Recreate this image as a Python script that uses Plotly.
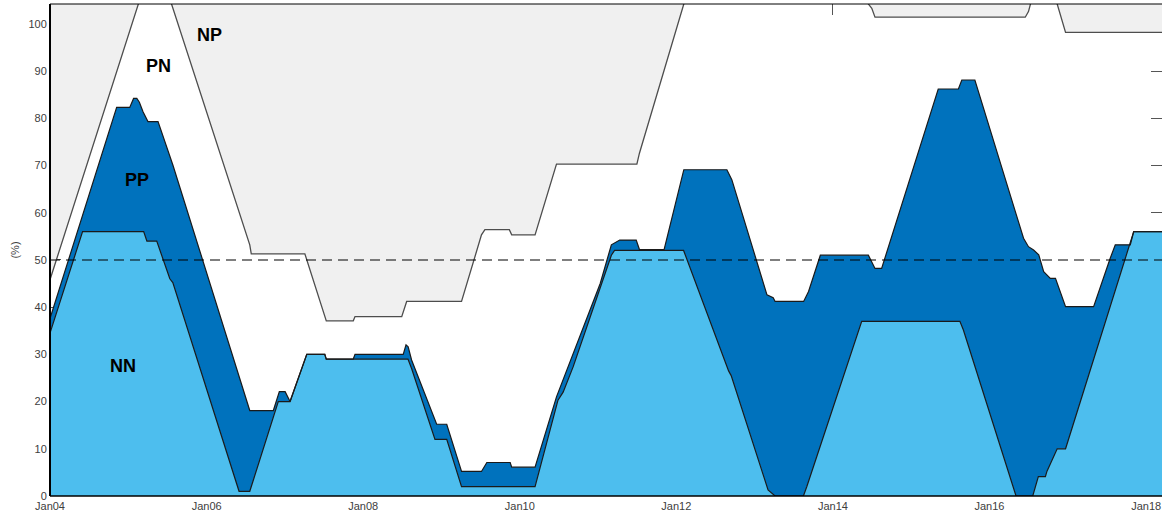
import plotly.graph_objects as go

# Cumulative shares (%) of the four groups, stacked bottom to top: NN, NN+PP, NN+PP+PN.
# The NP share fills the space above the NN+PP+PN line.
nn_dates = [
    "2004-01-01", "2004-06-01", "2005-03-13", "2005-03-28", "2005-05-13", "2005-07-13",
    "2005-07-27", "2006-06-01", "2006-07-21", "2006-12-01", "2007-01-25", "2007-04-13",
    "2007-07-06", "2007-07-13", "2008-07-28", "2008-08-14", "2008-12-01", "2009-01-25",
    "2009-04-04", "2010-03-13", "2010-06-28", "2010-07-22", "2010-09-07", "2011-03-04",
    "2011-03-19", "2012-02-04", "2012-09-01", "2012-09-13", "2013-03-04", "2013-04-06",
    "2013-08-16", "2013-09-01", "2014-05-15", "2015-08-16", "2015-09-01", "2016-05-04",
    "2016-07-21", "2016-08-16", "2016-09-18", "2016-09-25", "2016-11-12", "2016-12-21",
    "2017-11-04", "2018-03-16",
]
nn = [
    34.5, 56.0, 56.0, 54.0, 54.0, 46.0,
    45.2, 1.0, 1.0, 20.0, 20.0, 30.0,
    30.0, 29.0, 29.0, 27.0, 12.0, 12.0,
    2.0, 2.0, 20.3, 22.0, 27.4, 51.0,
    52.0, 52.0, 26.5, 25.5, 1.3, 0.0,
    0.0, 2.0, 37.0, 37.0, 35.2, 0.0,
    0.0, 4.1, 4.1, 5.2, 10.0, 10.0,
    56.0, 56.0,
]

nn_pp_dates = [
    "2004-01-01", "2004-11-07", "2005-01-07", "2005-01-25", "2005-02-09", "2005-02-21",
    "2005-03-10", "2005-04-02", "2005-05-19", "2005-07-21", "2005-07-28", "2006-07-21",
    "2006-11-08", "2006-12-06", "2007-01-02", "2007-01-25", "2007-04-13", "2007-07-06",
    "2007-07-13", "2007-11-16", "2007-11-24", "2008-07-06", "2008-07-19", "2008-07-29",
    "2008-08-06", "2008-08-14", "2008-12-09", "2009-01-25", "2009-04-04", "2009-07-06",
    "2009-07-31", "2009-11-17", "2009-11-24", "2010-03-13", "2010-06-21", "2011-01-11",
    "2011-03-04", "2011-04-12", "2011-06-28", "2011-07-13", "2011-11-05", "2012-02-05",
    "2012-08-24", "2012-09-16", "2013-02-27", "2013-03-28", "2013-04-06", "2013-08-17",
    "2013-09-09", "2013-11-03", "2014-06-15", "2014-07-16", "2014-08-16", "2015-05-07",
    "2015-08-09", "2015-08-25", "2015-10-25", "2016-06-08", "2016-07-01", "2016-07-25",
    "2016-08-18", "2016-09-10", "2016-10-11", "2016-11-04", "2016-12-21", "2017-05-01",
    "2017-07-17", "2017-08-10", "2017-10-19", "2017-11-04", "2018-03-16",
]
nn_pp = [
    37.6, 82.3, 82.3, 84.2, 84.2, 83.4,
    81.4, 79.3, 79.3, 71.2, 70.0, 18.1,
    18.1, 22.1, 22.1, 20.0, 30.0, 30.0,
    29.0, 29.0, 30.0, 30.0, 32.0, 31.6,
    29.9, 28.8, 15.2, 15.2, 5.2, 5.2,
    7.1, 7.1, 6.1, 6.1, 21.0, 45.0,
    53.2, 54.2, 54.2, 52.2, 52.2, 69.1,
    69.1, 67.0, 42.6, 42.0, 41.2, 41.2,
    43.3, 51.0, 51.0, 48.2, 48.2, 86.2,
    86.2, 88.1, 88.1, 54.6, 52.8, 52.1,
    51.1, 47.5, 46.1, 46.1, 40.1, 40.1,
    50.3, 53.2, 53.2, 56.0, 56.0,
]

nn_pp_pn_dates = [
    "2004-01-01", "2005-02-09", "2005-03-01", "2005-07-01", "2005-07-21", "2006-07-21",
    "2006-07-28", "2007-04-04", "2007-07-13", "2007-11-16", "2007-11-24", "2008-06-29",
    "2008-07-22", "2009-04-04", "2009-07-06", "2009-07-22", "2009-11-13", "2009-11-24",
    "2010-03-13", "2010-06-21", "2011-07-01", "2011-07-13", "2012-02-05", "2012-03-15",
    "2014-06-01", "2014-06-15", "2014-07-01", "2014-07-16", "2016-06-16", "2016-07-01",
    "2016-07-21", "2016-10-20", "2016-11-12", "2016-12-21", "2018-03-16",
]
nn_pp_pn = [
    45.8, 103.0, 106.0, 106.0, 104.2, 53.2,
    51.3, 51.3, 37.1, 37.1, 38.0, 38.0,
    41.2, 41.2, 55.3, 56.4, 56.4, 55.3,
    55.3, 70.3, 70.3, 72.6, 104.2, 106.0,
    106.0, 104.2, 103.3, 101.4, 101.4, 102.6,
    106.0, 106.0, 104.2, 98.2, 98.2,
]

# Axis limits and tick labels
X_START, X_END = "2004-01-01", "2018-03-16"
Y_MAX = 104.2
y_ticks = list(range(0, 101, 10))

# Area labels: (text, date, value)
area_labels = [
    ("NP", "2006-01-16", 97.7),
    ("PN", "2005-05-19", 91.1),
    ("PP", "2005-02-09", 66.9),
    ("NN", "2004-12-07", 27.5),
]

LIGHT_BLUE = "#4DBEEE"
DARK_BLUE = "#0072BD"
LIGHT_GRAY = "#F0F0F0"
FONT = "Liberation Sans, Arial, Helvetica, sans-serif"

fig = go.Figure()

fig.add_trace(go.Scatter(
    x=nn_dates, y=nn, mode="lines", name="NN",
    line=dict(color="#1a1a1a", width=1.2),
    fill="tozeroy", fillcolor=LIGHT_BLUE, hoverinfo="skip",
))
fig.add_trace(go.Scatter(
    x=nn_pp_dates, y=nn_pp, mode="lines", name="PP",
    line=dict(color="#1a1a1a", width=1.2),
    fill="tonexty", fillcolor=DARK_BLUE, hoverinfo="skip",
))
fig.add_trace(go.Scatter(
    x=nn_pp_pn_dates, y=nn_pp_pn, mode="lines", name="PN",
    line=dict(color="#4d4d4d", width=1.3), hoverinfo="skip",
))
# NP: everything between the PN boundary and the top of the axes
fig.add_trace(go.Scatter(
    x=[X_START, X_END], y=[Y_MAX, Y_MAX], mode="lines", name="NP",
    line=dict(width=0), fill="tonexty", fillcolor=LIGHT_GRAY, hoverinfo="skip",
))

axis_common = dict(
    ticks="inside", ticklen=11, tickwidth=1, tickcolor="#555555",
    showgrid=False, zeroline=False,
    showline=True, linecolor="rgba(0,0,0,0)", mirror="ticks",
    layer="below traces",
    tickfont=dict(family=FONT, size=11, color="#404040"),
)

fig.update_xaxes(
    type="date", range=[X_START, X_END],
    tick0="2004-01-01", dtick="M24", tickformat="%b%y",
    **axis_common,
)
fig.update_yaxes(
    range=[0, Y_MAX], tickvals=y_ticks,
    title=dict(text="(%)", font=dict(family=FONT, size=11, color="#404040"), standoff=6),
    **axis_common,
)

# Axes frame (left, bottom, top) and the 50 % reference line
frame = [
    dict(x0=0, x1=0, y0=0, y1=1, width=2),
    dict(x0=0, x1=1, y0=0, y1=0, width=1.5),
    dict(x0=0, x1=1, y0=1, y1=1, width=1),
]
for f in frame:
    fig.add_shape(type="line", xref="paper", yref="paper",
                  x0=f["x0"], x1=f["x1"], y0=f["y0"], y1=f["y1"],
                  line=dict(color="black", width=f["width"]), layer="above")

fig.add_shape(type="line", xref="paper", yref="y", x0=0, x1=1, y0=50, y1=50,
              line=dict(color="rgba(0,0,0,0.5)", width=2, dash="10px,6px"), layer="above")

for text, d, v in area_labels:
    fig.add_annotation(x=d, y=v, text=f"<b>{text}</b>", showarrow=False,
                       font=dict(family=FONT, size=18, color="black"))

fig.update_layout(
    width=1162, height=518,
    margin=dict(l=50, r=0, t=4, b=22),
    plot_bgcolor="white", paper_bgcolor="white",
    showlegend=False,
)

fig.write_html("out.html")
